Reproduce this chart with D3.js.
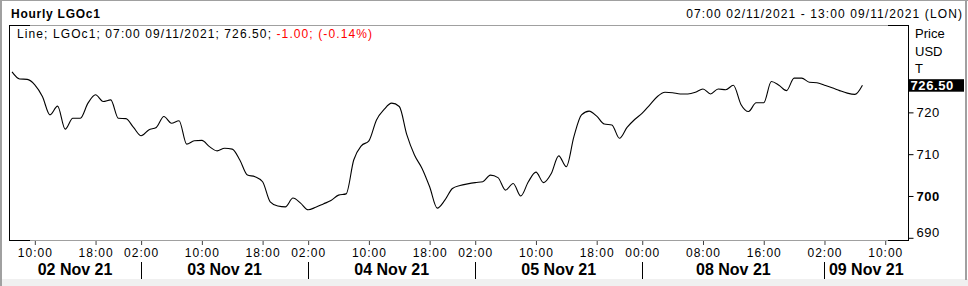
<!DOCTYPE html>
<html><head><meta charset="utf-8">
<script src="https://cdn.jsdelivr.net/npm/d3@7"></script>
<style>
html,body{margin:0;padding:0;background:#fff;}
svg{display:block;font-family:"Liberation Sans",Arial,sans-serif;}
</style></head>
<body><svg id="c" width="968" height="286"></svg>
<script>
// ---- data ----
const title = "Hourly LGOc1";
const rangeText = "07:00 02/11/2021 - 13:00 09/11/2021 (LON)";
const legendBlack = "Line; LGOc1; 07:00 09/11/2021; 726.50; ";
const legendRed = "-1.00; (-0.14%)";
const lastValue = 726.50;
// trading sessions: [date, first hour, last hour]
const sessions = [["2021-11-02",7,22],["2021-11-03",1,22],["2021-11-04",1,22],["2021-11-05",1,22],
                  ["2021-11-07",23,23],["2021-11-08",0,22],["2021-11-09",1,13]];
// hourly closes from 07:00 02/11 to 07:00 09/11
const values = [729.7,728.0,727.9,726.6,723.8,719.4,721.5,716.0,718.6,718.6,
  722.2,724.2,722.6,723.0,718.6,718.5,716.4,714.4,715.8,716.4,
  719.0,717.4,718.0,712.4,713.2,713.3,711.8,710.8,711.4,711.2,
  708.6,705.0,704.6,703.4,698.6,697.6,697.4,699.5,698.3,696.7,
  697.3,698.1,698.9,700.2,700.5,708.6,712.0,713.2,718.2,720.7,
  722.2,721.4,714.6,709.8,706.6,702.2,697.1,699.0,701.8,702.5,
  702.9,703.2,703.4,705.0,704.4,701.4,703.0,700.0,703.4,705.7,
  703.2,705.3,709.6,707.0,714.2,719.4,720.3,719.1,717.2,717.0,
  713.8,716.4,718.3,719.8,721.8,723.8,724.8,724.7,724.4,724.4,
  724.8,725.6,724.4,725.6,725.4,726.5,721.9,720.2,722.3,722.3,
  727.4,726.5,725.2,728.2,728.2,727.2,727.1,726.5,725.9,725.2,
  724.6,724.3,726.5];
const xTicks = [["2021-11-02",10],["2021-11-02",18],["2021-11-03",2],["2021-11-03",10],["2021-11-03",18],
  ["2021-11-04",2],["2021-11-04",10],["2021-11-04",18],["2021-11-05",2],["2021-11-05",10],["2021-11-05",18],
  ["2021-11-08",0],["2021-11-08",8],["2021-11-08",16],["2021-11-09",2],["2021-11-09",10]];
const dayLabels = [["2021-11-02","02 Nov 21"],["2021-11-03","03 Nov 21"],["2021-11-04","04 Nov 21"],
  ["2021-11-05","05 Nov 21"],["2021-11-08","08 Nov 21"],["2021-11-09","09 Nov 21"]];
const yTicks = [690,700,710,720];
const yDomain = [689.47, 740.9];
const axisTitles = ["Price","USD","T"];

// ---- build bar index ----
const bars = [];
sessions.forEach(([d,h0,h1])=>{for(let h=h0;h<=h1;h++) bars.push({d,h});});
const idxOf = (d,h)=>bars.findIndex(b=>b.d===d&&b.h===h);

const L=9,R=908,T=25,B=240;
const svg = d3.select("#c");
const x = d3.scaleLinear().domain([-0.4, bars.length-1]).range([L,R]);
const y = d3.scaleLinear().domain(yDomain).range([B,T]);

// outer frame
svg.append("rect").attr("x",0).attr("y",279).attr("width",968).attr("height",7).attr("fill","#f0f0f0");
svg.append("rect").attr("x",0).attr("y",0).attr("width",968).attr("height",1).attr("fill","#a0a0a0");
svg.append("rect").attr("x",0).attr("y",0).attr("width",2).attr("height",286).attr("fill","#a0a0a0");
svg.append("rect").attr("x",965).attr("y",0).attr("width",2).attr("height",280).attr("fill","#a0a0a0");

// header
svg.append("text").attr("x",11).attr("y",18).attr("font-size",12).attr("font-weight","bold")
  .attr("letter-spacing",0.75).text(title);
svg.append("text").attr("x",963).attr("y",18).attr("font-size",12).attr("text-anchor","end")
  .attr("letter-spacing",1.1).text(rangeText);

// plot frame
svg.append("line").attr("x1",L).attr("x2",R).attr("y1",T+0.5).attr("y2",T+0.5).attr("stroke","#a0a0a0");
svg.append("line").attr("x1",L).attr("x2",R).attr("y1",B+0.5).attr("y2",B+0.5).attr("stroke","#a0a0a0");
const blk = (x1,y1,x2,y2)=>svg.append("line").attr("x1",x1).attr("y1",y1).attr("x2",x2).attr("y2",y2).attr("stroke","#000");
blk(L+0.5,T,L+0.5,B+1); blk(R+0.5,T,R+0.5,B+1);
blk(L,T+0.5,L+21,T+0.5); blk(R-20,T+0.5,R+1,T+0.5);
blk(L,B+0.5,L+21,B+0.5); blk(R-20,B+0.5,R+1,B+0.5);

// legend
const lg = svg.append("text").attr("x",17).attr("y",38.3).attr("font-size",12).attr("letter-spacing",1.1);
lg.append("tspan").attr("fill","#000").text(legendBlack);
lg.append("tspan").attr("fill","#ff0000").text(legendRed);

// line
svg.append("clipPath").attr("id","clip").append("rect").attr("x",L).attr("y",T).attr("width",R-L).attr("height",B-T);
const line = d3.line().x((d,i)=>x(i)).y(d=>y(d)).curve(d3.curveMonotoneX);
svg.append("path").datum(values).attr("clip-path","url(#clip)").attr("d",line)
  .attr("fill","none").attr("stroke","#000").attr("stroke-width",1.1);

// y axis
const ya = svg.append("g").attr("transform",`translate(${R+0.5},0)`)
  .call(d3.axisRight(y).tickValues(yTicks).tickSize(5).tickPadding(3).tickFormat(d3.format("d")));
ya.select(".domain").remove();
ya.selectAll("line").attr("stroke","#000");
ya.selectAll("text").attr("font-size",13).attr("font-family","Liberation Sans, Arial, sans-serif")
  .attr("fill","#000").attr("letter-spacing",0.5)
  .attr("font-weight",d=>d===700?"bold":"normal")
  .attr("dy",d=>d===690?"-0.1em":"0.32em");
axisTitles.forEach((t,i)=>svg.append("text").attr("x",915).attr("y",38.3+i*17.5).attr("font-size",13).text(t));

// last value box
const ly = y(lastValue);
svg.append("rect").attr("x",R).attr("y",ly-6).attr("width",56).attr("height",12.5).attr("fill","#000");
svg.append("text").attr("x",910.5).attr("y",ly+5).attr("font-size",13).attr("font-weight","bold")
  .attr("fill","#fff").attr("letter-spacing",0.6).text(lastValue.toFixed(2));

// x axis
const tickIdx = xTicks.map(([d,h])=>idxOf(d,h));
const xa = svg.append("g").attr("transform",`translate(0,${B+1})`)
  .call(d3.axisBottom(x).tickValues(tickIdx).tickSize(4)
    .tickFormat(i=>String(bars[i].h).padStart(2,"0")+":00"));
xa.select(".domain").remove();
xa.selectAll("line").attr("stroke","#404040");
xa.selectAll("text").attr("font-size",12).attr("font-family","Liberation Sans, Arial, sans-serif")
  .attr("fill","#000").attr("letter-spacing",1).attr("y",16).attr("dy",null);

// day separators and labels
const firstTick = dayLabels.map(([d])=>tickIdx.find(i=>bars[i].d===d));
const bounds = firstTick.map((ti,k)=>k===0?L:x(ti)).concat([R]);
firstTick.forEach((ti,k)=>{
  if(k>0){ const sx=Math.round(x(ti))+0.5; svg.append("line").attr("x1",sx).attr("x2",sx).attr("y1",262).attr("y2",279).attr("stroke","#000"); }
  svg.append("text").attr("x",(bounds[k]+bounds[k+1])/2).attr("y",275).attr("text-anchor","middle")
    .attr("font-size",16).attr("font-weight","bold").text(dayLabels[k][1]);
});
</script></body></html>
